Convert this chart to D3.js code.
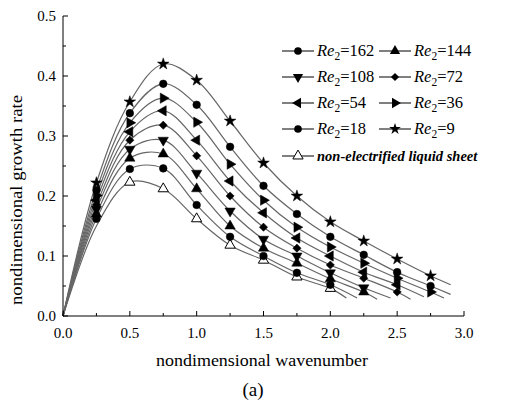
<!DOCTYPE html>
<html>
<head>
<meta charset="utf-8">
<script src="https://cdn.jsdelivr.net/npm/d3@7"></script>
<style>
  body { margin: 0; background: #fff; }
  text { font-family: "Liberation Serif", "Times New Roman", serif; fill: #000; }
</style>
</head>
<body>
<div class="canvas"></div>
<script>
// data
const waveNumbers = [0.25, 0.5, 0.75, 1.0, 1.25, 1.5, 1.75, 2.0, 2.25, 2.5, 2.75];
const re9 = [0.222, 0.357, 0.42, 0.393, 0.325, 0.255, 0.2, 0.157, 0.125, 0.095, 0.067];
const re18 = [0.21, 0.338, 0.387, 0.352, 0.282, 0.217, 0.17, 0.132, 0.102, 0.073, 0.05];
const re36 = [0.201, 0.322, 0.363, 0.323, 0.253, 0.193, 0.148, 0.115, 0.088, 0.063, 0.04];
const re54 = [0.193, 0.307, 0.342, 0.293, 0.225, 0.172, 0.13, 0.1, 0.073, 0.052];
const re72 = [0.185, 0.293, 0.318, 0.267, 0.2, 0.148, 0.113, 0.085, 0.063, 0.04];
const re108 = [0.178, 0.278, 0.293, 0.238, 0.175, 0.128, 0.1, 0.072, 0.047];
const re144 = [0.17, 0.263, 0.27, 0.212, 0.15, 0.113, 0.088, 0.062, 0.04];
const re162 = [0.162, 0.245, 0.246, 0.185, 0.132, 0.1, 0.072, 0.052];
const nonElecX = [0.5, 0.75, 1.0, 1.25, 1.5, 1.75, 2.0];
const nonElec = [0.223, 0.212, 0.162, 0.118, 0.093, 0.065, 0.046];
const nonElecStart = [0.25, 0.15]; // line passes here, no marker
// where each fitted curve stops
const lineEndX = [2.9, 2.9, 2.85, 2.7, 2.6, 2.45, 2.35, 2.2, 2.12];
const lineEndY = [0.052, 0.036, 0.03, 0.032, 0.028, 0.03, 0.028, 0.03, 0.03];

const xTicks = [0, 0.5, 1.0, 1.5, 2.0, 2.5, 3.0];
const yTicks = [0, 0.1, 0.2, 0.3, 0.4, 0.5];

// dimensions
const w = 505;
const h = 403;
const margin = { top: 16, right: 41, bottom: 87, left: 63 };
const graphWidth = w - margin.left - margin.right;
const graphHeight = h - margin.top - margin.bottom;

const svg = d3.select(".canvas").append("svg").attr("width", w).attr("height", h);
const graph = svg.append("g").attr("transform", `translate(${margin.left}, ${margin.top})`);

const x = d3.scaleLinear().domain([0, 3]).range([0, graphWidth]);
const y = d3.scaleLinear().domain([0, 0.5]).range([graphHeight, 0]);

// marker shapes
const circle = d3.symbol().type(d3.symbolCircle).size(46);
const tri = d3.symbol().type(d3.symbolTriangle).size(46);
const diamond = d3.symbol().type(d3.symbolSquare).size(34);
const star = d3.symbol().type(d3.symbolStar).size(42);

const series = [
  { name: "9", values: re9, shape: star, rot: 0, fill: "#000" },
  { name: "18", values: re18, shape: circle, rot: 0, fill: "#000" },
  { name: "36", values: re36, shape: tri, rot: 90, fill: "#000" },
  { name: "54", values: re54, shape: tri, rot: -90, fill: "#000" },
  { name: "72", values: re72, shape: diamond, rot: 45, fill: "#000" },
  { name: "108", values: re108, shape: tri, rot: 180, fill: "#000" },
  { name: "144", values: re144, shape: tri, rot: 0, fill: "#000" },
  { name: "162", values: re162, shape: circle, rot: 0, fill: "#000" },
];
series.forEach((s, i) => {
  s.points = s.values.map((v, j) => [waveNumbers[j], v]);
  s.line = [[0, 0], ...s.points, [lineEndX[i], lineEndY[i]]];
});
const nonSeries = {
  name: "non",
  points: nonElec.map((v, j) => [nonElecX[j], v]),
  shape: tri, rot: 0, fill: "#fff",
};
nonSeries.line = [[0, 0], nonElecStart, ...nonSeries.points, [lineEndX[8], lineEndY[8]]];

const line = d3.line()
  .x((d) => x(d[0]))
  .y((d) => y(d[1]))
  .curve(d3.curveCatmullRom.alpha(0.5));

// curves
graph.selectAll("path.curve")
  .data([...series, nonSeries])
  .enter()
  .append("path")
  .attr("class", "curve")
  .attr("d", (d) => line(d.line))
  .attr("fill", "none")
  .attr("stroke", "#666")
  .attr("stroke-width", 1.2);

// markers
[nonSeries, ...series.slice().reverse()].forEach((s) => {
  graph.append("g")
    .selectAll("path")
    .data(s.points)
    .enter()
    .append("path")
    .attr("d", s.shape)
    .attr("transform", (d) => `translate(${x(d[0])}, ${y(d[1])}) rotate(${s.rot})`)
    .attr("fill", s.fill)
    .attr("stroke", "#000")
    .attr("stroke-width", s.fill === "#fff" ? 1 : 0.5);
});

// axes
const xAxis = graph.append("g").attr("transform", `translate(0, ${graphHeight})`);
xAxis.append("line").attr("x1", 0).attr("x2", graphWidth).attr("stroke", "#000");
xAxis.selectAll("line.major")
  .data(xTicks)
  .enter()
  .append("line")
  .attr("x1", (d) => x(d)).attr("x2", (d) => x(d))
  .attr("y1", 0).attr("y2", -5)
  .attr("stroke", "#000");
xAxis.selectAll("line.minor")
  .data(xTicks.slice(0, -1).map((d) => d + 0.25))
  .enter()
  .append("line")
  .attr("x1", (d) => x(d)).attr("x2", (d) => x(d))
  .attr("y1", 0).attr("y2", -3)
  .attr("stroke", "#000");
xAxis.selectAll("text")
  .data(xTicks)
  .enter()
  .append("text")
  .attr("x", (d) => x(d))
  .attr("y", 22)
  .attr("text-anchor", "middle")
  .attr("font-size", 15)
  .text((d) => d.toFixed(1));

const yAxis = graph.append("g");
yAxis.append("line").attr("y1", 0).attr("y2", graphHeight).attr("stroke", "#000");
yAxis.selectAll("line.major")
  .data(yTicks)
  .enter()
  .append("line")
  .attr("y1", (d) => y(d)).attr("y2", (d) => y(d))
  .attr("x1", 0).attr("x2", 5)
  .attr("stroke", "#000");
yAxis.selectAll("line.minor")
  .data(yTicks.slice(0, -1).map((d) => d + 0.05))
  .enter()
  .append("line")
  .attr("y1", (d) => y(d)).attr("y2", (d) => y(d))
  .attr("x1", 0).attr("x2", 3)
  .attr("stroke", "#000");
yAxis.selectAll("text")
  .data(yTicks)
  .enter()
  .append("text")
  .attr("x", -7)
  .attr("y", (d) => y(d) + 5)
  .attr("text-anchor", "end")
  .attr("font-size", 15)
  .text((d) => d.toFixed(1));

// axis titles
svg.append("text")
  .attr("x", 262)
  .attr("y", 366)
  .attr("text-anchor", "middle")
  .attr("font-size", 17)
  .attr("textLength", 212)
  .attr("lengthAdjust", "spacingAndGlyphs")
  .text("nondimensional wavenumber");

svg.append("text")
  .attr("transform", `translate(22, 200) rotate(-90)`)
  .attr("text-anchor", "middle")
  .attr("font-size", 17)
  .attr("textLength", 210)
  .attr("lengthAdjust", "spacingAndGlyphs")
  .text("nondimensional growth rate");

svg.append("text")
  .attr("x", 253)
  .attr("y", 396)
  .attr("text-anchor", "middle")
  .attr("font-size", 19)
  .text("(a)");

// legend
const legendOrder = ["162", "144", "108", "72", "54", "36", "18", "9"];
const legendCols = [282, 379];
const legendRowY = [51, 77, 103, 129, 156];
const legend = svg.append("g").attr("id", "legend");

legendOrder.forEach((name, i) => {
  const s = series.find((d) => d.name === name);
  const lx = legendCols[i % 2];
  const ly = legendRowY[Math.floor(i / 2)];
  const item = legend.append("g").attr("transform", `translate(${lx}, ${ly})`);
  item.append("line").attr("x1", 0).attr("x2", 32).attr("stroke", "#000").attr("stroke-width", 1);
  item.append("path")
    .attr("d", s.shape)
    .attr("transform", `translate(16, 0) rotate(${s.rot})`)
    .attr("fill", "#000");
  const t = item.append("text").attr("x", 35).attr("y", 5).attr("font-size", 16.5);
  t.append("tspan").attr("font-style", "italic").text("Re");
  t.append("tspan").attr("font-size", 11.5).attr("dy", 4).text("2");
  t.append("tspan").attr("dy", -4).text("=" + name);
});

const nonItem = legend.append("g").attr("transform", `translate(${legendCols[0]}, ${legendRowY[4]})`);
nonItem.append("line").attr("x1", 0).attr("x2", 32).attr("stroke", "#000");
nonItem.append("path")
  .attr("d", tri)
  .attr("transform", "translate(16, 0)")
  .attr("fill", "#fff")
  .attr("stroke", "#000");
nonItem.append("text")
  .attr("x", 35)
  .attr("y", 5)
  .attr("font-size", 14.5)
  .attr("font-style", "italic")
  .attr("font-weight", "bold")
  .text("non-electrified liquid sheet");
</script>
</body>
</html>
